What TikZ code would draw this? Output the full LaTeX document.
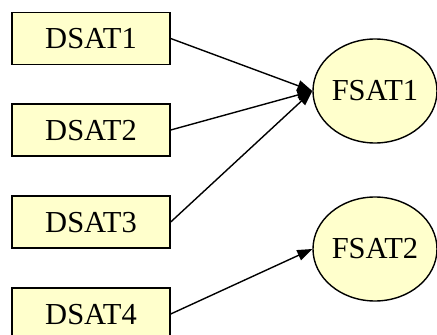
\documentclass[tikz,border=0pt]{standalone}
\usepackage{fontspec}
\setmainfont{Liberation Serif}
\usetikzlibrary{arrows.meta,shapes.geometric}
\definecolor{nodefill}{HTML}{FFFFCC}
\tikzset{
  x=1pt, y=1pt,
  srcbox/.style={draw, fill=nodefill, line width=1.4pt, minimum width=158pt, minimum height=52pt,
    inner sep=0pt, text depth=0pt, yshift=0pt, font=\fontsize{30.5}{36}\selectfont},
  dstell/.style={draw, fill=nodefill, ellipse, line width=1.4pt, minimum width=124pt, minimum height=104pt,
    inner sep=0pt, font=\fontsize{30.5}{36}\selectfont},
  link/.style={line width=1.4pt, -{Triangle[length=15pt,width=11pt]}}
}
\begin{document}
\begin{tikzpicture}
\useasboundingbox (0,0) rectangle (437,335);
\node[srcbox] (d1) at (91,296.5) {DSAT1};
\node[srcbox] (d2) at (91,205) {DSAT2};
\node[srcbox] (d3) at (91,113) {DSAT3};
\node[srcbox] (d4) at (91,21) {DSAT4};
\node[dstell] (f1) at (375,244) {FSAT1};
\node[dstell] (f2) at (375,86) {FSAT2};
\draw[link] (d1.east) -- (f1.west);
\draw[link] (d2.east) -- (f1.west);
\draw[link] (d3.east) -- (f1.west);
\draw[link] (d4.east) -- (f2.west);
\end{tikzpicture}
\end{document}
